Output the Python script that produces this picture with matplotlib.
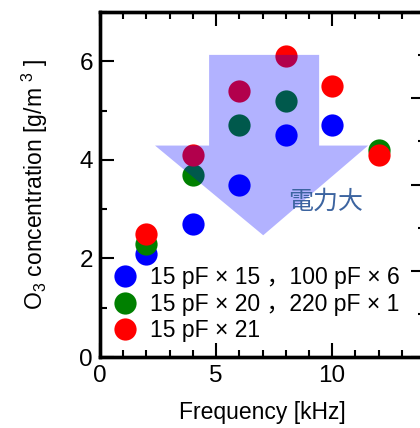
import numpy as np
import matplotlib
matplotlib.use('Agg')
import matplotlib.pyplot as plt
from matplotlib.patches import Polygon
from matplotlib.ticker import MultipleLocator

plt.rcParams['font.family'] = ['Liberation Sans', 'Noto Sans CJK JP', 'DejaVu Sans']
plt.rcParams['mathtext.fontset'] = 'custom'
plt.rcParams['mathtext.rm'] = 'Liberation Sans'
plt.rcParams['mathtext.it'] = 'Liberation Sans'

# data
freq_blue = [2, 4, 6, 8, 10]
o3_blue = [2.1, 2.7, 3.5, 4.5, 4.7]
freq_green = [2, 4, 6, 8, 12]
o3_green = [2.3, 3.7, 4.7, 5.2, 4.2]
freq_red = [2, 4, 6, 8, 10, 12]
o3_red = [2.5, 4.1, 5.4, 6.1, 5.5, 4.1]
labels = ['15 pF \u00d7 15 \uff0c100 pF \u00d7 6',
          '15 pF \u00d7 20 \uff0c220 pF \u00d7 1',
          '15 pF \u00d7 21']

# arrow outline (data units)
arrow_x = [4.7, 9.44, 9.44, 11.55, 7.03, 2.37, 4.7]
arrow_y = [6.13, 6.13, 4.29, 4.29, 2.47, 4.29, 4.29]

fig = plt.figure(figsize=(4.2, 4.28), dpi=100)
ax = fig.add_axes([100/420, 71/428, 325/420, 345/428])

ms = 16
ax.plot(freq_blue, o3_blue, 'o', color='#0000ff', ms=ms, mec='none', label=labels[0])
ax.plot(freq_green, o3_green, 'o', color='#008000', ms=ms, mec='none', label=labels[1])
ax.plot(freq_red, o3_red, 'o', color='#ff0000', ms=ms, mec='none', label=labels[2])

ax.add_patch(Polygon(np.column_stack([arrow_x, arrow_y]), closed=True,
                     facecolor='#0000ff', alpha=0.3, edgecolor='none', zorder=5))
ax.text(9.7, 3.15, '電力大', color='#3c64a0', fontsize=18, ha='center', va='center',
        family=['Noto Sans CJK JP', 'DejaVu Sans'], zorder=6)

ax.set_xlim(0, 14)
ax.set_ylim(0, 7)
ax.xaxis.set_major_locator(MultipleLocator(5))
ax.xaxis.set_minor_locator(MultipleLocator(1))
ax.yaxis.set_major_locator(MultipleLocator(2))
ax.yaxis.set_minor_locator(MultipleLocator(1))
ax.tick_params(which='both', direction='in', top=True, right=False, width=1.5,
               labelsize=17.5)
ax.tick_params(axis='y', pad=5)
ax.tick_params(axis='x', pad=6)
ax.tick_params(which='major', length=10)
ax.tick_params(which='minor', length=5)
for s in ax.spines.values():
    s.set_linewidth(2.4)

ax2 = ax.twinx()
ax2.set_ylim(0, 8)
ax2.yaxis.set_major_locator(MultipleLocator(2))
ax2.yaxis.set_minor_locator(MultipleLocator(1))
ax2.tick_params(which='both', direction='in', width=1.5, labelright=False)
ax2.tick_params(which='major', length=10)
ax2.tick_params(which='minor', length=5)
for s in ax2.spines.values():
    s.set_linewidth(2.4)

ax.set_xlabel('Frequency [kHz]', fontsize=16.5, labelpad=10)
ax.set_ylabel('O$_3$ concentration [g/m $^3$ ]', fontsize=16.5, labelpad=21)

leg = ax.legend(loc='upper left', bbox_to_anchor=(0.0, 0.29), frameon=False,
                fontsize=16.5, handletextpad=0.4, labelspacing=0.15,
                handlelength=1.4, borderaxespad=0)
leg.set_zorder(10)

fig.savefig('out.png', dpi=100)
